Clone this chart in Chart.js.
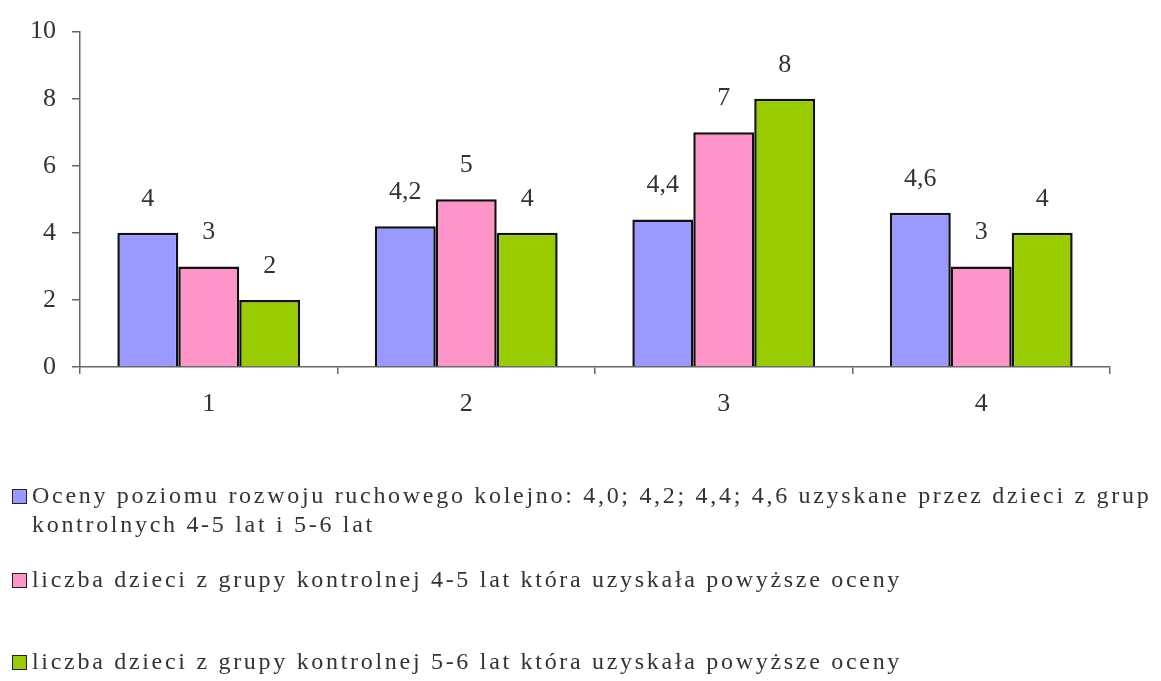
<!DOCTYPE html>
<html><head><meta charset="utf-8">
<script src="https://cdn.jsdelivr.net/npm/chart.js@4/dist/chart.umd.min.js"></script>
<style>
html,body{margin:0;padding:0;background:#fff;}
#wrap{position:relative;width:1161px;height:681px;}
#legend{position:absolute;left:12px;top:481px;width:1149px;font-family:"Liberation Serif","DejaVu Serif",serif;font-size:24px;color:#333;letter-spacing:2.7px;}
.item{position:absolute;left:0;white-space:nowrap;line-height:29px;}
.box{display:inline-block;width:13px;height:13px;border:1.5px solid #222;margin-right:5px;vertical-align:-1px;}
</style></head>
<body><div id="wrap"><canvas id="c" width="1161" height="681"></canvas><div id="legend"></div></div>
<script>
const categories = ['1','2','3','4'];
const ocenyValues = [4.0, 4.2, 4.4, 4.6];
const grupa45Values = [3, 5, 7, 3];
const grupa56Values = [2, 4, 8, 4];
const yTicks = [0, 2, 4, 6, 8, 10];
const seriesLabels = [
  ['Oceny poziomu rozwoju ruchowego kolejno: 4,0; 4,2; 4,4; 4,6 uzyskane przez dzieci z grup', 'kontrolnych 4-5 lat i 5-6 lat'],
  ['liczba dzieci z grupy kontrolnej 4-5 lat która uzyskała powyższe oceny'],
  ['liczba dzieci z grupy kontrolnej 5-6 lat która uzyskała powyższe oceny']
];
const colors = ['#9999FF', '#FF94C8', '#99CC00'];
const legendTops = [0, 84, 166];

const fmt = v => String(v).replace('.', ',');

const labelPlugin = {
  id: 'vals',
  afterDatasetsDraw(chart) {
    const ctx = chart.ctx;
    ctx.save();
    ctx.font = '26px "Liberation Serif", serif';
    ctx.fillStyle = '#333';
    ctx.textAlign = 'center';
    ctx.textBaseline = 'middle';
    chart.data.datasets.forEach((ds, i) => {
      chart.getDatasetMeta(i).data.forEach((bar, j) => {
        ctx.fillText(fmt(ds.data[j]), bar.x, bar.y - 34);
      });
    });
    ctx.restore();
  }
};

const serif = {family: '"Liberation Serif", "DejaVu Serif", serif', size: 26};

new Chart(document.getElementById('c'), {
  type: 'bar',
  data: {
    labels: categories,
    datasets: [ocenyValues, grupa45Values, grupa56Values].map((d, i) => ({
      label: seriesLabels[i].join(' '),
      data: d,
      backgroundColor: colors[i],
      borderColor: '#111',
      borderWidth: 2.5,
      borderSkipped: 'bottom',
      categoryPercentage: 0.71,
      barPercentage: 1.0
    }))
  },
  options: {
    responsive: false,
    animation: false,
    layout: {padding: {top: 31, right: 51, left: 0, bottom: 0}},
    plugins: {legend: {display: false}, tooltip: {enabled: false}},
    scales: {
      x: {
        grid: {offset: true, drawOnChartArea: false, drawTicks: true, tickLength: 7, color: '#666', lineWidth: 1.5},
        border: {color: '#666', width: 1.5},
        ticks: {font: serif, color: '#333', padding: 15},
        afterFit(s) { s.height = 681 - 367; }
      },
      y: {
        min: 0, max: 10,
        afterBuildTicks(s) { s.ticks = yTicks.map(v => ({value: v})); },
        grid: {drawOnChartArea: false, drawTicks: true, tickLength: 8, color: '#666', lineWidth: 1.5},
        border: {color: '#666', width: 1.5},
        ticks: {font: serif, color: '#333', padding: 16},
        afterFit(s) { s.width = 80; }
      }
    }
  },
  plugins: [labelPlugin]
});

const leg = document.getElementById('legend');
seriesLabels.forEach((lines, i) => {
  const div = document.createElement('div');
  div.className = 'item';
  div.style.top = legendTops[i] + 'px';
  const box = document.createElement('span');
  box.className = 'box';
  box.style.background = colors[i];
  div.appendChild(box);
  lines.forEach((t, k) => {
    if (k > 0) {
      div.appendChild(document.createElement('br'));
      const sp = document.createElement('span');
      sp.style.display = 'inline-block';
      sp.style.width = '20px';
      div.appendChild(sp);
    }
    div.appendChild(document.createTextNode(t));
  });
  leg.appendChild(div);
});
</script></body></html>
